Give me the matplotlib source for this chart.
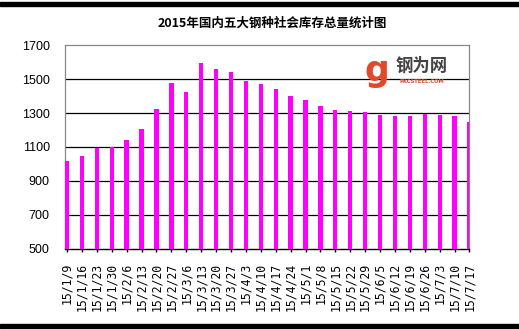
import matplotlib
matplotlib.use("Agg")
import matplotlib.pyplot as plt
from matplotlib.patches import Rectangle

# 数据: 2015年五大钢种社会库存(万吨), 读图估计
dates = ["15/1/9", "15/1/16", "15/1/23", "15/1/30", "15/2/6", "15/2/13", "15/2/20",
         "15/2/27", "15/3/6", "15/3/13", "15/3/20", "15/3/27", "15/4/3", "15/4/10",
         "15/4/17", "15/4/24", "15/5/1", "15/5/8", "15/5/15", "15/5/22", "15/5/29",
         "15/6/5", "15/6/12", "15/6/19", "15/6/26", "15/7/3", "15/7/10", "15/7/17"]
stock = [1020, 1048, 1092, 1102, 1141, 1206, 1323, 1478, 1425, 1596, 1559, 1542,
         1488, 1470, 1441, 1400, 1376, 1341, 1318, 1312, 1308, 1288, 1282, 1282,
         1294, 1288, 1282, 1247]
yticks = [500, 700, 900, 1100, 1300, 1500, 1700]

fig = plt.figure(figsize=(5.19, 3.29), dpi=100)
ax = fig.add_axes([0.1252, 0.2432, 0.7794, 0.62])

x = list(range(len(dates)))
ax.bar(x, stock, width=0.29, color="#ff00ff", zorder=3)

ax.set_xlim(-0.135, len(dates) - 1)
ax.set_ylim(500, 1700)
ax.set_yticks(yticks)
ax.set_yticklabels([str(v) for v in yticks], fontsize=9, family="Liberation Sans")
ax.tick_params(axis="y", length=0, pad=11)
ax.set_xticks(x)
ax.set_xticklabels(dates, rotation=90, fontsize=8.3, family="DejaVu Sans Mono")
ax.tick_params(axis="x", length=2, width=1, color="black", pad=8)

for v in yticks[1:-1]:
    ax.axhline(v, color="black", lw=0.9, zorder=1)

for s in ["top", "right", "left"]:
    ax.spines[s].set_color("#888888")
    ax.spines[s].set_linewidth(0.9)
ax.spines["bottom"].set_color("black")
ax.spines["bottom"].set_linewidth(1)

fig.text(0.524, 0.93, "2015年国内五大钢种社会库存总量统计图", ha="center", va="center",
         fontsize=9, fontweight="bold", family=["Noto Sans CJK SC", "DejaVu Sans"])

# logo
fig.text(0.727, 0.785, "g", ha="center", va="center", fontsize=25, fontweight="bold",
         color="#e2492c", family="DejaVu Sans")
fig.text(0.812, 0.80, "钢为网", ha="center", va="center", fontsize=12.5, fontweight="bold",
         color="#444444", family=["Noto Sans CJK SC", "DejaVu Sans"])
fig.text(0.812, 0.752, "PKCSTEEL.COM", ha="center", va="center", fontsize=3.8,
         fontweight="bold", color="#e2492c", family="DejaVu Sans")

# 上下黑边
fig.patches.append(Rectangle((0, 1 - 5.5 / 329), 1, 3.5 / 329, transform=fig.transFigure,
                             color="black", zorder=0))
fig.patches.append(Rectangle((0, 1 / 329), 1, 4.5 / 329, transform=fig.transFigure,
                             color="black", zorder=0))

fig.savefig("out.png", dpi=100)
